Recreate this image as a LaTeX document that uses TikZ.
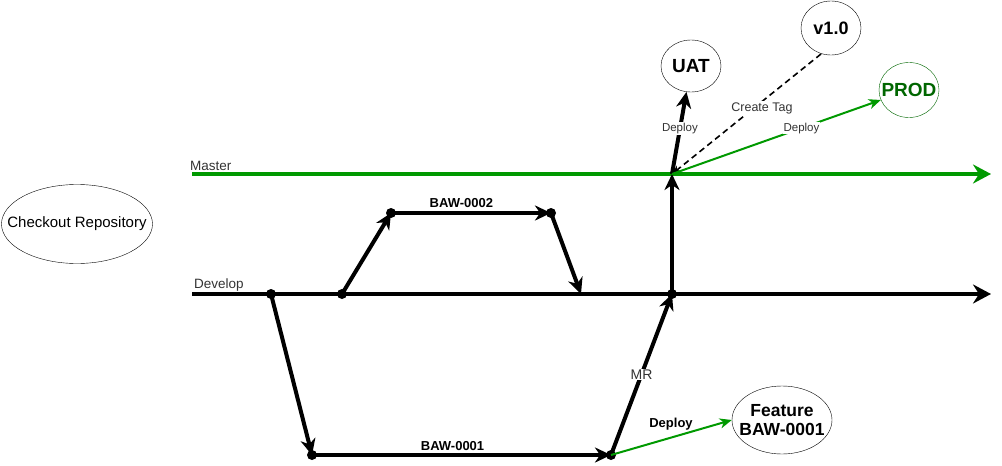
\documentclass[tikz,border=0pt]{standalone}
\usepackage{fontspec}
\setmainfont{Liberation Sans}
\usetikzlibrary{shapes}
\usetikzlibrary{arrows.meta}
\definecolor{branchgreen}{RGB}{0,153,0}
\definecolor{prodgreen}{RGB}{0,102,0}
\definecolor{labelgray}{RGB}{51,51,51}
\tikzset{
	node_dot/.style = {
		circle,
		fill=black,
		inner sep=0pt,
		minimum size=10pt
	},
	node_env/.style = {
		ellipse,
		draw=black,
		inner sep=0pt,
		inner xsep=-8pt,
		font=\bfseries\fontsize{19}{21}\selectfont,
		minimum width=60pt,
		minimum height=52pt
	},
	node_prod/.style = {
		node_env,
		draw=prodgreen,
		text=prodgreen
	},
	branch/.style = {
		line width=4pt,
		-{Stealth[length=16pt,width=15pt,inset=5pt]}
	},
	main_line/.style = {
		branch,
		-{Stealth[length=18pt,width=19pt,inset=6pt]}
	},
	deploy/.style = {
		draw=branchgreen,
		line width=2pt,
		-{Stealth[length=12pt,width=10pt,inset=3.5pt]}
	},
	branch_label/.style = {
		font=\fontsize{13.5}{15}\selectfont,
		text=labelgray,
		inner sep=1pt
	},
	edge_label/.style = {
		font=\fontsize{11.5}{13}\selectfont,
		text=labelgray,
		fill=white,
		inner sep=1pt
	},
	bold_label/.style = {
		font=\bfseries\fontsize{13}{15}\selectfont,
		fill=white,
		inner sep=1pt
	},
}
\begin{document}
\begin{tikzpicture}[x=1pt,y=-1pt]
\useasboundingbox (0,0) rectangle (1002,466);
% start node
\node [ellipse, draw=black, minimum width=151pt, minimum height=79pt, inner sep=0pt,
	inner xsep=-18pt, font=\fontsize{15}{17}\selectfont] (checkout) at (77,224) {Checkout Repository};

% branch lines
\coordinate (master_start) at (192,174);
\coordinate (master_end) at (991,174);
\coordinate (develop_start) at (192,294);
\coordinate (develop_end) at (991,294);
\coordinate (master_merge) at (672,174);
\coordinate (develop_back) at (581,294);
\draw [main_line, draw=branchgreen, fill=branchgreen] (master_start) -- (master_end);
\draw [main_line] (develop_start) -- (develop_end);
\node [branch_label, anchor=south west] (master_lbl) at (189,172) {Master};
\node [branch_label, anchor=south west] (develop_lbl) at (193,292) {Develop};

% commits
\node [node_dot] (d1) at (271,294) {};
\node [node_dot] (d2) at (342,294) {};
\node [node_dot] (d3) at (672,294) {};
\node [node_dot] (b2a) at (391,213) {};
\node [node_dot] (b2b) at (551,213) {};
\node [node_dot] (b1a) at (312,455) {};
\node [node_dot] (b1b) at (611,455) {};

% environments
\node [node_env] (uat) at (691,66) {UAT};
\node [node_env, minimum height=54pt, font=\bfseries\fontsize{18}{20}\selectfont] (tag) at (831,28) {v1.0};
\coordinate (tag_foot) at (821,54);
\node [node_prod, minimum height=55pt] (prod) at (909,90) {PROD};
\node [node_env, minimum width=100pt, minimum height=68pt, align=center, inner xsep=-10pt,
	font=\bfseries\fontsize{17.5}{19}\selectfont] (feature) at (782,420) {Feature\\BAW-0001};

% feature BAW-0002
\draw [branch] (d2.center) -- (b2a.center);
\draw [branch] (b2a.center) -- node [bold_label, above=2pt, pos=0.44] (baw2) {BAW-0002} (b2b.center);
\draw [branch] (b2b.center) -- (develop_back);

% feature BAW-0001
\draw [branch] (d1.center) -- (b1a.center);
\draw [branch] (b1a.center) -- node [bold_label, above=1pt, pos=0.47] (baw1) {BAW-0001} (b1b.center);
\draw [branch] (b1b.center) -- node [edge_label, font=\fontsize{14}{16}\selectfont] (mr) {MR} (d3.center);
\draw [deploy] (b1b.center) -- (feature.west);
\node [bold_label, fill=none] (deploy_feat) at (671,424) {Deploy};

% release
\draw [branch] (d3.center) -- (master_merge);
\draw [branch] (master_merge) -- node [edge_label, pos=0.55] (deploy_uat) {Deploy} (uat);
\draw [dash pattern=on 6pt off 4pt, line width=1.6pt, -{Stealth[length=9pt,width=7pt,inset=2.5pt]}]
	(tag_foot) -- node [edge_label, pos=0.45, xshift=8pt, font=\fontsize{12.5}{14}\selectfont] (create_tag) {Create Tag} (master_merge);
\draw [deploy] (master_merge) -- node [edge_label, pos=0.62] (deploy_prod) {Deploy} (prod);
\end{tikzpicture}
\end{document}
